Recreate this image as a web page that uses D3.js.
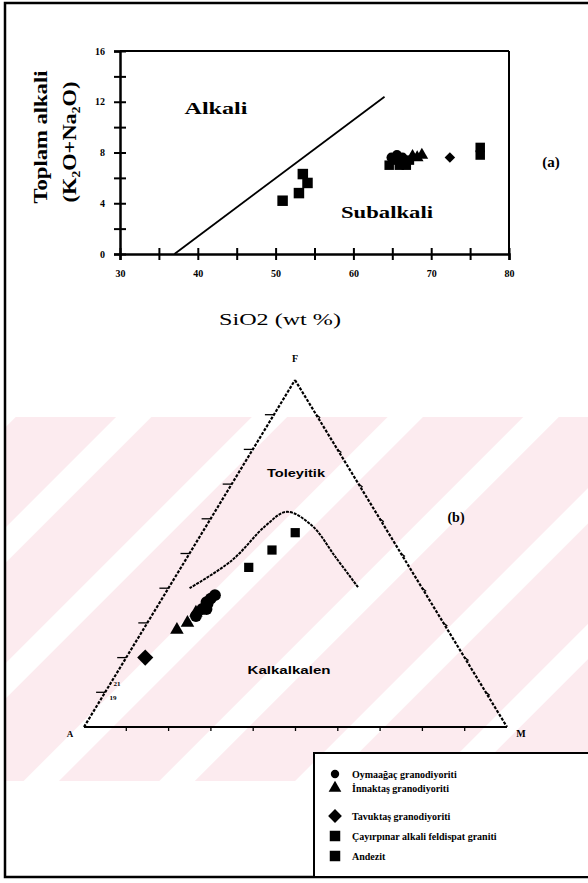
<!DOCTYPE html>
<html>
<head>
<meta charset="utf-8">
<script src="https://cdn.jsdelivr.net/npm/d3@7"></script>
<style>
body { margin: 0; background: #fff; }
text { font-family: "Liberation Serif", "DejaVu Serif", serif; fill: #000; }
</style>
</head>
<body>
<div id="chart"></div>
<script>
// ---- (a) toplam alkali - SiO2 ----
var xTicks = [30, 35, 40, 45, 50, 55, 60, 65, 70, 75, 80];
var yTicks = [0, 2, 4, 6, 8, 10, 12, 14, 16];
var divideLine = [[37, 0], [64, 12.4]];
var andezitA = [[50.9, 4.2], [53.0, 4.8], [53.5, 6.3], [54.1, 5.6]];
var oymaagacA = [[65.6, 7.8], [66.3, 7.6], [64.9, 7.6]];
var innakayaA = [[67.6, 7.7], [68.2, 7.6], [68.8, 7.8]];
var tavuktasA = [[72.4, 7.6]];
var cayirpinarA = [[64.6, 7.0], [65.3, 7.4], [65.9, 7.0], [66.5, 7.2], [67.2, 7.4], [66.8, 7.0], [76.3, 7.8], [76.3, 8.4]];

// ---- (b) AFM ucgeni: [A, F, M] yuzde ----
var ternTicks = [10, 20, 30, 40, 50, 60, 70, 80, 90];
var boundary = [[55, 40, 5], [41, 48, 11], [28, 58, 14], [21, 62, 17], [17, 58, 25], [16, 49, 35], [15, 40, 45]];
var andezitB = [[38, 46, 16], [30, 51, 19], [22, 56, 22]];
var oymaagacB = [[53, 36, 11], [55, 34, 11], [51.5, 37, 11.5], [54, 34, 12], [57.5, 32, 10.5], [53, 35.5, 11.5], [50, 38, 12]];
var innakayaB = [[64, 28, 8], [60.5, 30, 9.5], [57, 33, 10]];
var tavuktasB = [[75.5, 20, 4.5]];

var legendLabels = ["Oymaağaç granodiyoriti", "İnnaktaş granodiyoriti", "Tavuktaş granodiyoriti", "Çayırpınar alkali feldispat graniti", "Andezit"];
var legendTypes = ["circle", "triangle", "diamond", "square", "square"];

var W = 588, H = 883;
var svg = d3.select("#chart").append("svg")
    .attr("width", W)
    .attr("height", H);

svg.append("rect").attr("width", W).attr("height", H).attr("fill", "#fff");

// watermark band
var defs = svg.append("defs");
defs.append("pattern")
    .attr("id", "stripes")
    .attr("patternUnits", "userSpaceOnUse")
    .attr("width", 96)
    .attr("height", 10)
    .attr("patternTransform", "translate(-10,0) rotate(45)")
    .append("rect")
    .attr("width", 25)
    .attr("height", 10)
    .attr("fill", "#fff");

svg.append("rect")
    .attr("x", 5).attr("y", 417)
    .attr("width", W).attr("height", 364)
    .attr("fill", "#fcebef");
svg.append("rect")
    .attr("x", 5).attr("y", 417)
    .attr("width", W).attr("height", 364)
    .attr("fill", "url(#stripes)");

// outer frame
svg.append("rect")
    .attr("x", 5).attr("y", 3)
    .attr("width", W).attr("height", 874)
    .attr("fill", "none")
    .attr("stroke", "#000")
    .attr("stroke-width", 2.5);

// ===== (a) =====
var x = d3.scaleLinear().domain([30, 80]).range([120, 509]);
var y = d3.scaleLinear().domain([0, 16]).range([254, 51]);

var gA = svg.append("g");

gA.append("line")
    .attr("x1", x(30)).attr("x2", x(80))
    .attr("y1", y(16)).attr("y2", y(16))
    .attr("stroke", "#000").attr("stroke-width", 2);
gA.append("line")
    .attr("x1", x(80)).attr("x2", x(80))
    .attr("y1", y(16)).attr("y2", y(0))
    .attr("stroke", "#000").attr("stroke-width", 2);

var xAxis = gA.append("g")
    .attr("transform", "translate(0," + y(0) + ")")
    .call(d3.axisBottom(x).tickValues(xTicks).tickSize(6).tickPadding(10)
        .tickFormat(function (d) { return d % 10 === 0 ? d : ""; }));
xAxis.selectAll("line").attr("y1", -6).attr("stroke-width", 2);

var yAxis = gA.append("g")
    .attr("transform", "translate(" + x(30) + ",0)")
    .call(d3.axisLeft(y).tickValues(yTicks).tickSize(6).tickPadding(9)
        .tickFormat(function (d) { return d % 4 === 0 ? d : ""; }));
yAxis.selectAll("line").attr("x1", 6).attr("stroke-width", 2);

gA.selectAll(".domain").attr("stroke-width", 2.5);
gA.selectAll(".tick text")
    .style("font-family", "'Liberation Serif', serif")
    .style("font-weight", "bold")
    .style("font-size", "10px");

gA.append("path")
    .datum(divideLine)
    .attr("fill", "none")
    .attr("stroke", "#000")
    .attr("stroke-width", 1.8)
    .attr("d", d3.line().x(function (d) { return x(d[0]); }).y(function (d) { return y(d[1]); }));

function drawSym(g, data, type, size, px, py) {
    var t = { circle: d3.symbolCircle, triangle: d3.symbolTriangle, diamond: d3.symbolSquare, square: d3.symbolSquare }[type];
    g.selectAll(null)
        .data(data)
        .enter().append("path")
        .attr("d", d3.symbol().type(t).size(size))
        .attr("transform", function (d) {
            return "translate(" + px(d) + "," + py(d) + ")" + (type === "diamond" ? " rotate(45)" : "");
        })
        .attr("fill", "#000");
}

var ax = function (d) { return x(d[0]); }, ay = function (d) { return y(d[1]); };
drawSym(gA, andezitA, "square", 110, ax, ay);
drawSym(gA, cayirpinarA, "square", 90, ax, ay);
drawSym(gA, oymaagacA, "circle", 80, ax, ay);
drawSym(gA, innakayaA, "triangle", 70, ax, ay);
drawSym(gA, tavuktasA, "diamond", 55, ax, ay);

gA.append("text").attr("x", 216).attr("y", 114)
    .attr("text-anchor", "middle")
    .style("font-size", "17px").style("font-weight", "bold")
    .attr("textLength", 63).attr("lengthAdjust", "spacingAndGlyphs")
    .text("Alkali");
gA.append("text").attr("x", 387).attr("y", 218)
    .attr("text-anchor", "middle")
    .style("font-size", "17px").style("font-weight", "bold")
    .attr("textLength", 92).attr("lengthAdjust", "spacingAndGlyphs")
    .text("Subalkali");
gA.append("text").attr("x", 551).attr("y", 167)
    .attr("text-anchor", "middle")
    .style("font-size", "15px").style("font-weight", "bold")
    .text("(a)");

gA.append("text")
    .attr("transform", "translate(47,137) rotate(-90)")
    .attr("text-anchor", "middle")
    .style("font-size", "19px").style("font-weight", "bold")
    .attr("textLength", 133).attr("lengthAdjust", "spacingAndGlyphs")
    .text("Toplam alkali");
gA.append("text")
    .attr("transform", "translate(76,142) rotate(-90)")
    .attr("text-anchor", "middle")
    .style("font-size", "18px").style("font-weight", "bold")
    .attr("textLength", 121).attr("lengthAdjust", "spacingAndGlyphs")
    .text("(K₂O+Na₂O)");

gA.append("text").attr("x", 280).attr("y", 325)
    .attr("text-anchor", "middle")
    .style("font-size", "16px")
    .attr("textLength", 122).attr("lengthAdjust", "spacingAndGlyphs")
    .text("SiO2 (wt %)");

// ===== (b) AFM =====
var Apt = [84, 727], Fpt = [295, 380], Mpt = [507, 727];
var fy = d3.scaleLinear().domain([0, 100]).range([Apt[1], Fpt[1]]);
var mx = d3.scaleLinear().domain([0, 100]).range([Apt[0], Mpt[0]]);
var fx = d3.scaleLinear().domain([0, 100]).range([0, Fpt[0] - Apt[0]]);
function tx(d) { return mx(d[2]) + fx(d[1]); }
function ty(d) { return fy(d[1]); }

var gB = svg.append("g");

gB.append("line")
    .attr("x1", Apt[0]).attr("y1", Apt[1]).attr("x2", Mpt[0]).attr("y2", Mpt[1])
    .attr("stroke", "#000").attr("stroke-width", 2);
gB.append("line")
    .attr("x1", Apt[0]).attr("y1", Apt[1]).attr("x2", Fpt[0]).attr("y2", Fpt[1])
    .attr("stroke", "#000").attr("stroke-width", 2.2).attr("stroke-dasharray", "3,1.5");
gB.append("line")
    .attr("x1", Fpt[0]).attr("y1", Fpt[1]).attr("x2", Mpt[0]).attr("y2", Mpt[1])
    .attr("stroke", "#000").attr("stroke-width", 2.2).attr("stroke-dasharray", "3,1.5");

// ticks on the three sides
gB.selectAll(".tl").data(ternTicks).enter().append("line")
    .attr("x1", function (d) { return tx([100 - d, d, 0]); })
    .attr("x2", function (d) { return tx([100 - d, d, 0]) - 9; })
    .attr("y1", function (d) { return ty([100 - d, d, 0]); })
    .attr("y2", function (d) { return ty([100 - d, d, 0]); })
    .attr("stroke", "#000").attr("stroke-width", 1.3);
gB.selectAll(".tr").data(ternTicks).enter().append("line")
    .attr("x1", function (d) { return tx([0, d, 100 - d]); })
    .attr("x2", function (d) { return tx([0, d, 100 - d]) + 4; })
    .attr("y1", function (d) { return ty([0, d, 100 - d]); })
    .attr("y2", function (d) { return ty([0, d, 100 - d]) + 3; })
    .attr("stroke", "#000").attr("stroke-width", 1.3);
gB.selectAll(".tb").data(ternTicks).enter().append("line")
    .attr("x1", function (d) { return tx([100 - d, 0, d]); })
    .attr("x2", function (d) { return tx([100 - d, 0, d]); })
    .attr("y1", function (d) { return ty([100 - d, 0, d]); })
    .attr("y2", function (d) { return ty([100 - d, 0, d]) + 4; })
    .attr("stroke", "#000").attr("stroke-width", 1.3);

gB.append("path")
    .datum(boundary)
    .attr("fill", "none")
    .attr("stroke", "#000")
    .attr("stroke-width", 2)
    .attr("stroke-dasharray", "3,1")
    .attr("d", d3.line().x(tx).y(ty).curve(d3.curveCatmullRom));

drawSym(gB, andezitB, "square", 85, tx, ty);
drawSym(gB, oymaagacB, "circle", 110, tx, ty);
drawSym(gB, innakayaB, "triangle", 80, tx, ty);
drawSym(gB, tavuktasB, "diamond", 130, tx, ty);

gB.append("text").attr("x", 295).attr("y", 362).attr("text-anchor", "middle")
    .style("font-size", "10px").style("font-weight", "bold").text("F");
gB.append("text").attr("x", 70).attr("y", 737).attr("text-anchor", "middle")
    .style("font-size", "9px").style("font-weight", "bold").text("A");
gB.append("text").attr("x", 521).attr("y", 737).attr("text-anchor", "middle")
    .style("font-size", "10px").style("font-weight", "bold").text("M");
gB.append("text").attr("x", 117).attr("y", 686).attr("text-anchor", "middle")
    .style("font-size", "7px").style("font-weight", "bold").text("21");
gB.append("text").attr("x", 113).attr("y", 700).attr("text-anchor", "middle")
    .style("font-size", "7px").style("font-weight", "bold").text("19");

gB.append("text").attr("x", 296).attr("y", 477).attr("text-anchor", "middle")
    .style("font-family", "'Liberation Sans', sans-serif")
    .style("font-size", "11px").style("font-weight", "bold")
    .attr("textLength", 58).attr("lengthAdjust", "spacingAndGlyphs")
    .text("Toleyitik");
gB.append("text").attr("x", 289).attr("y", 674).attr("text-anchor", "middle")
    .style("font-family", "'Liberation Sans', sans-serif")
    .style("font-size", "11px").style("font-weight", "bold")
    .attr("textLength", 83).attr("lengthAdjust", "spacingAndGlyphs")
    .text("Kalkalkalen");
gB.append("text").attr("x", 456).attr("y", 522).attr("text-anchor", "middle")
    .style("font-size", "14px").style("font-weight", "bold")
    .text("(b)");

// ===== legend =====
var lg = svg.append("g");
lg.append("rect")
    .attr("x", 314).attr("y", 753)
    .attr("width", 280).attr("height", 124)
    .attr("fill", "#fff")
    .attr("stroke", "#000")
    .attr("stroke-width", 2);

var rowY = [774, 788, 816, 836, 856];
var legSize = { circle: 55, triangle: 70, diamond: 95, square: 110 };
var rows = lg.selectAll(".row")
    .data(legendLabels)
    .enter().append("g")
    .attr("transform", function (d, i) { return "translate(0," + rowY[i] + ")"; });

rows.append("path")
    .attr("d", function (d, i) {
        var t = { circle: d3.symbolCircle, triangle: d3.symbolTriangle, diamond: d3.symbolSquare, square: d3.symbolSquare }[legendTypes[i]];
        return d3.symbol().type(t).size(legSize[legendTypes[i]])();
    })
    .attr("transform", function (d, i) { return "translate(335,0)" + (legendTypes[i] === "diamond" ? " rotate(45)" : ""); })
    .attr("fill", "#000");

rows.append("text")
    .attr("x", 352)
    .attr("y", 3.5)
    .style("font-size", "10px")
    .style("font-weight", "bold")
    .text(function (d) { return d; });
</script>
</body>
</html>
